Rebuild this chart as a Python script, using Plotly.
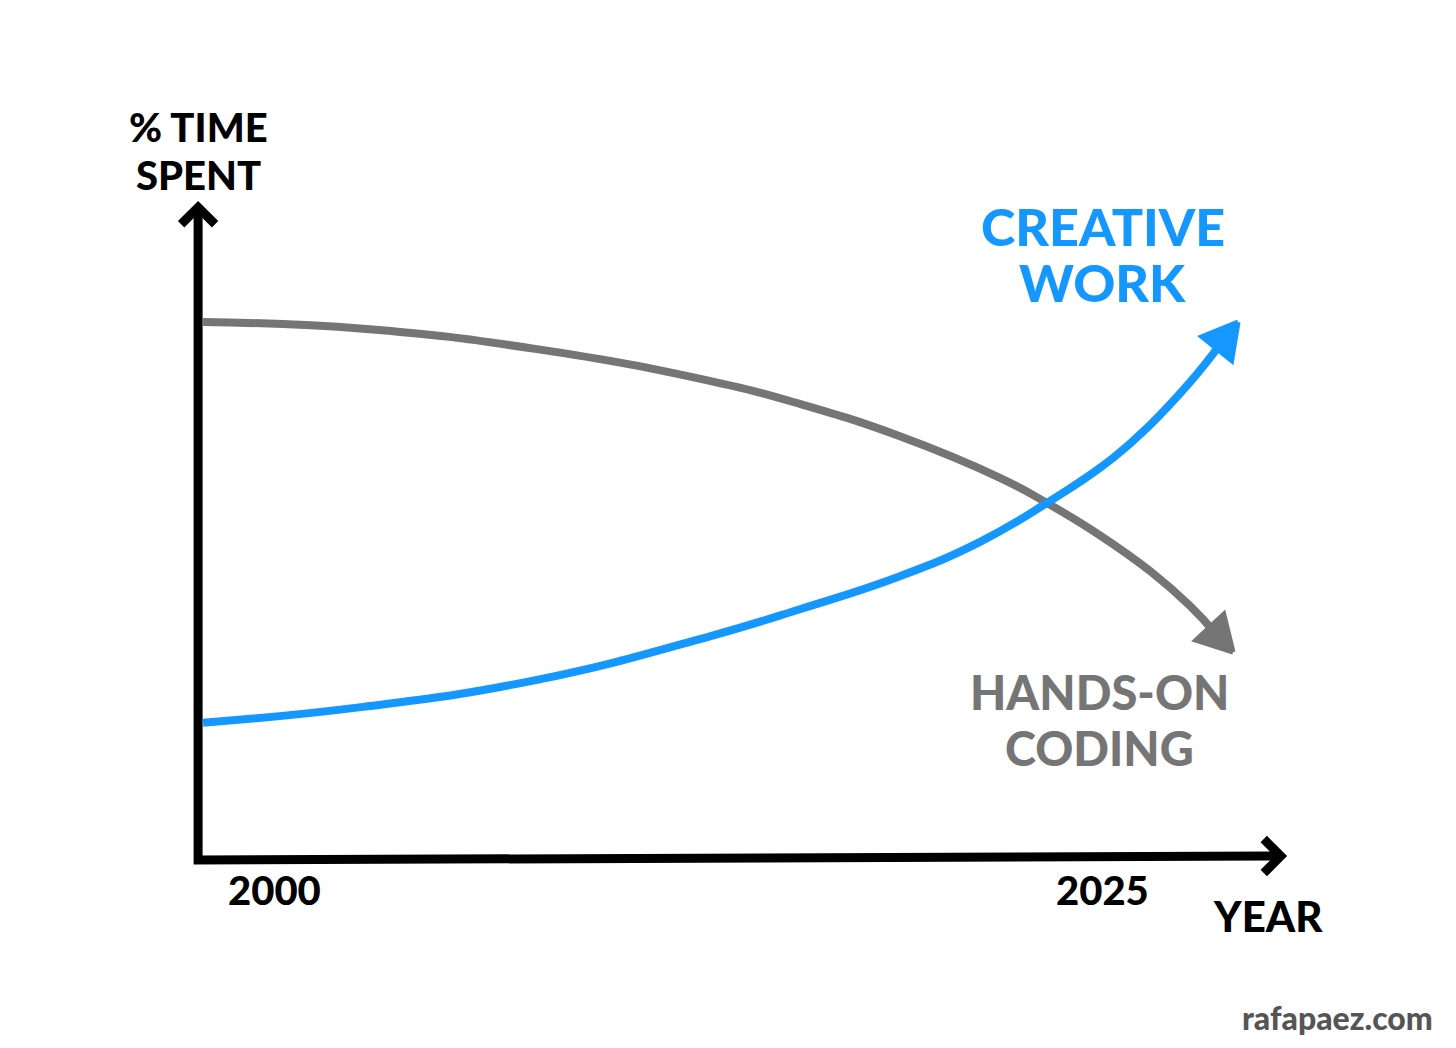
import math
import plotly.graph_objects as go

# values (year, % of time spent)
years_coding = [1997.83, 2002.66, 2007.91, 2013.13, 2015.85, 2018.87, 2021.89, 2023.31,
                2024.91, 2026.42, 2027.63, 2028.93]
pct_coding = [81.5, 80.5, 77.4, 72.6, 69.1, 64.2, 57.9, 54.1,
              49.2, 43.8, 38.5, 31.5]

years_creative = [1997.83, 2002.66, 2007.91, 2013.13, 2015.85, 2018.87, 2021.29, 2023.31,
                  2025.30, 2026.42, 2027.63, 2029.08]
pct_creative = [20.8, 23.2, 27.3, 33.9, 38.0, 43.0, 48.2, 54.1,
                60.9, 65.9, 72.4, 81.5]

tick_years = [2000, 2025]
tick_labels = ["2000", "2025"]

# drawn axis extents
X0, X1 = 1997.68, 2030.37
Y0, Y1 = 0.0, 98.9
Y_END = 0.6  # the x axis line drifts up a touch at its right end

W, H = 1440, 1032
XR = [1991.94, 2035.42]
YR = [-27.27, 129.09]
px_x = W / (XR[1] - XR[0])   # pixels per year
px_y = H / (YR[1] - YR[0])   # pixels per percent

BLUE = "#1497ff"
GREY = "#757575"
INK = "#000000"
FONT = "Lato"


def arrow_head(xs, ys, length=34, width=38):
    """filled triangle whose tip sits on the last point, pointing along the last segment"""
    dx = (xs[-1] - xs[-2]) * px_x
    dy = (ys[-1] - ys[-2]) * px_y
    n = math.hypot(dx, dy)
    ux, uy = dx / n, dy / n
    bx, by = -ux * length, -uy * length
    px, py = -uy * width / 2, ux * width / 2
    tx, ty = xs[-1], ys[-1]
    hx = [tx, tx + (bx + px) / px_x, tx + (bx - px) / px_x, tx]
    hy = [ty, ty + (by + py) / px_y, ty + (by - py) / px_y, ty]
    base = (tx + bx * 0.8 / px_x, ty + by * 0.8 / px_y)
    return hx, hy, base


fig = go.Figure()

# hand-drawn style axes
axis_line = dict(color=INK, width=9)
fig.add_trace(go.Scatter(x=[X0, X0, X1], y=[Y1, Y0, Y_END], mode="lines",
                         line=axis_line, hoverinfo="skip"))
c = 17
fig.add_trace(go.Scatter(x=[X0 - c / px_x, X0, X0 + c / px_x], y=[Y1 - c / px_y, Y1, Y1 - c / px_y],
                         mode="lines", line=axis_line, hoverinfo="skip"))
fig.add_trace(go.Scatter(x=[X1 - c / px_x, X1, X1 - c / px_x], y=[Y_END + c / px_y, Y_END, Y_END - c / px_y],
                         mode="lines", line=axis_line, hoverinfo="skip"))

# the two curves with arrowheads
for xs, ys, col in [(years_coding, pct_coding, GREY), (years_creative, pct_creative, BLUE)]:
    hx, hy, base = arrow_head(xs, ys)
    fig.add_trace(go.Scatter(x=xs[:-1] + [base[0]], y=ys[:-1] + [base[1]], mode="lines",
                             line=dict(color=col, width=8, shape="spline", smoothing=1.3),
                             hoverinfo="skip"))
    fig.add_trace(go.Scatter(x=hx, y=hy, mode="lines", fill="toself", fillcolor=col,
                             line=dict(color=col, width=5), hoverinfo="skip"))

annotations = [
    dict(x=X0, y=111.0, text="% TIME", font=dict(size=40, color=INK)),
    dict(x=X0, y=103.8, text="SPENT", font=dict(size=40, color=INK)),
    dict(x=2025.0, y=96.0, text="CREATIVE", font=dict(size=52, color=BLUE)),
    dict(x=2025.0, y=87.6, text="WORK", font=dict(size=52, color=BLUE)),
    dict(x=2024.9, y=25.4, text="HANDS-ON", font=dict(size=47, color=GREY)),
    dict(x=2024.9, y=17.0, text="CODING", font=dict(size=47, color=GREY)),
    dict(x=2029.98, y=-8.5, text="YEAR", font=dict(size=42, color=INK)),
    dict(x=2032.07, y=-23.9, text="rafapaez.com", font=dict(size=32, color="#555555")),
]
for ty, tl in zip(tick_years, tick_labels):
    annotations.append(dict(x=ty, y=-4.5, text=tl, font=dict(size=40, color=INK)))
for a in annotations:
    a.update(xref="x", yref="y", showarrow=False, font=dict(family=FONT, weight=900, **a["font"]))

fig.update_layout(
    width=W, height=H,
    margin=dict(l=0, r=0, t=0, b=0),
    paper_bgcolor="white", plot_bgcolor="white",
    showlegend=False,
    xaxis=dict(range=XR, visible=False, fixedrange=True),
    yaxis=dict(range=YR, visible=False, fixedrange=True),
    annotations=annotations,
)

fig.write_html("out.html")
